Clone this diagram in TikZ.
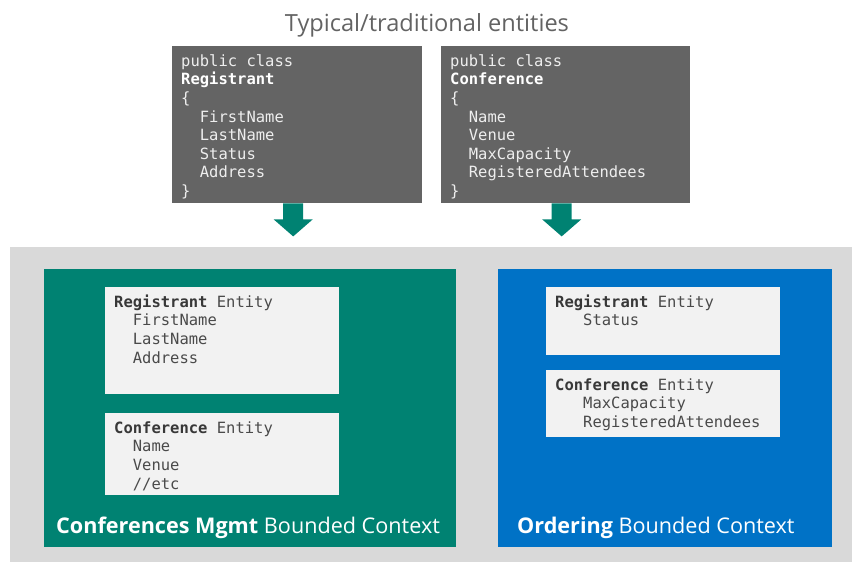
\documentclass[tikz,border=0pt]{standalone}
\usepackage{fontspec}
\setmainfont{Open Sans}
\setmonofont{DejaVu Sans Mono}
\usetikzlibrary{calc}
\definecolor{codegray}{HTML}{646464}
\definecolor{codefg}{HTML}{EEEEEE}
\definecolor{bandgray}{HTML}{D9D9D9}
\definecolor{teal}{HTML}{008272}
\definecolor{msblue}{HTML}{0072C6}
\definecolor{entbg}{HTML}{F2F2F2}
\definecolor{entfg}{HTML}{4A4A4A}
\definecolor{entdark}{HTML}{383838}
\definecolor{titlegray}{HTML}{636363}
\newcommand{\ind}[1]{\hphantom{#1}}
\begin{document}
\begin{tikzpicture}[x=1pt,y=-1pt,
  panel/.style={inner sep=0pt, anchor=north west},
  codebox/.style={panel, fill=codegray},
  entbox/.style={panel, fill=entbg},
  codetext/.style={anchor=north west, inner sep=0pt, align=left,
    font=\ttfamily\fontsize{15.5}{18.6}\selectfont, text=codefg},
  enttext/.style={anchor=north west, inner sep=0pt, align=left,
    font=\ttfamily\fontsize{15.5}{18.6}\selectfont, text=entfg},
  ctxlabel/.style={anchor=base west, inner sep=0pt, text=white,
    font=\fontsize{21.6}{26}\selectfont},
  flowarrow/.style={fill=teal}
]
\useasboundingbox (0,0) rectangle (852,562);

% title
\node[anchor=base, inner sep=0pt, text=titlegray, font=\fontsize{23.6}{28}\selectfont]
  (title) at (427,31) {Typical/traditional entities};

% traditional classes
\node[codebox, minimum width=250pt, minimum height=157pt] (reg) at (172,46) {};
\node[codebox, minimum width=249pt, minimum height=157pt] (conf) at (441,46) {};
\node[codetext] (regcode) at ($(reg.north west)+(9,7)$)
  {\strut public class\\\textbf{\color{white}Registrant}\\\{\\\ind{xx}FirstName\\\ind{xx}LastName\\\ind{xx}Status\\\ind{xx}Address\\\}};
\node[codetext] (confcode) at ($(conf.north west)+(9,7)$)
  {\strut public class\\\textbf{\color{white}Conference}\\\{\\\ind{xx}Name\\\ind{xx}Venue\\\ind{xx}MaxCapacity\\\ind{xx}RegisteredAttendees\\\}};

% arrows
\foreach \n in {reg,conf}
  \fill[flowarrow] ($(\n.south)+(-14,0)$) -- ($(\n.south)+(6,0)$) -- ($(\n.south)+(6,16)$)
    -- ($(\n.south)+(15.5,16)$) -- ($(\n.south)+(-4,33)$) -- ($(\n.south)+(-23.5,16)$)
    -- ($(\n.south)+(-14,16)$) -- cycle;

% band and contexts
\node[panel, fill=bandgray, minimum width=842pt, minimum height=315pt] (band) at (10,247) {};
\node[panel, fill=teal, minimum width=412pt, minimum height=278pt] (ctxA) at (44,269) {};
\node[panel, fill=msblue, minimum width=334pt, minimum height=278pt] (ctxB) at (498,269) {};

% entities in Conferences Mgmt
\node[entbox, minimum width=234pt, minimum height=107pt] (aReg) at (105,287) {};
\node[entbox, minimum width=234pt, minimum height=82pt] (aConf) at (105,413) {};
\node[enttext] (aRegT) at ($(aReg.north west)+(9,7)$)
  {\strut\textbf{\color{entdark}Registrant} Entity\\\ind{xx}FirstName\\\ind{xx}LastName\\\ind{xx}Address};
\node[enttext] (aConfT) at ($(aConf.north west)+(9,7)$)
  {\strut\textbf{\color{entdark}Conference} Entity\\\ind{xx}Name\\\ind{xx}Venue\\\ind{xx}//etc};

% entities in Ordering
\node[entbox, minimum width=234pt, minimum height=68pt] (bReg) at (546,287) {};
\node[entbox, minimum width=234pt, minimum height=67pt] (bConf) at (546,370) {};
\node[enttext] (bRegT) at ($(bReg.north west)+(9,7)$)
  {\strut\textbf{\color{entdark}Registrant} Entity\\\ind{xxx}Status};
\node[enttext] (bConfT) at ($(bConf.north west)+(9,7)$)
  {\strut\textbf{\color{entdark}Conference} Entity\\\ind{xxx}MaxCapacity\\\ind{xxx}RegisteredAttendees};

% context labels
\node[ctxlabel] (lblA) at (56,533) {\textbf{Conferences Mgmt} Bounded Context};
\node[ctxlabel] (lblB) at (517,533) {\textbf{Ordering} Bounded Context};
\end{tikzpicture}
\end{document}
